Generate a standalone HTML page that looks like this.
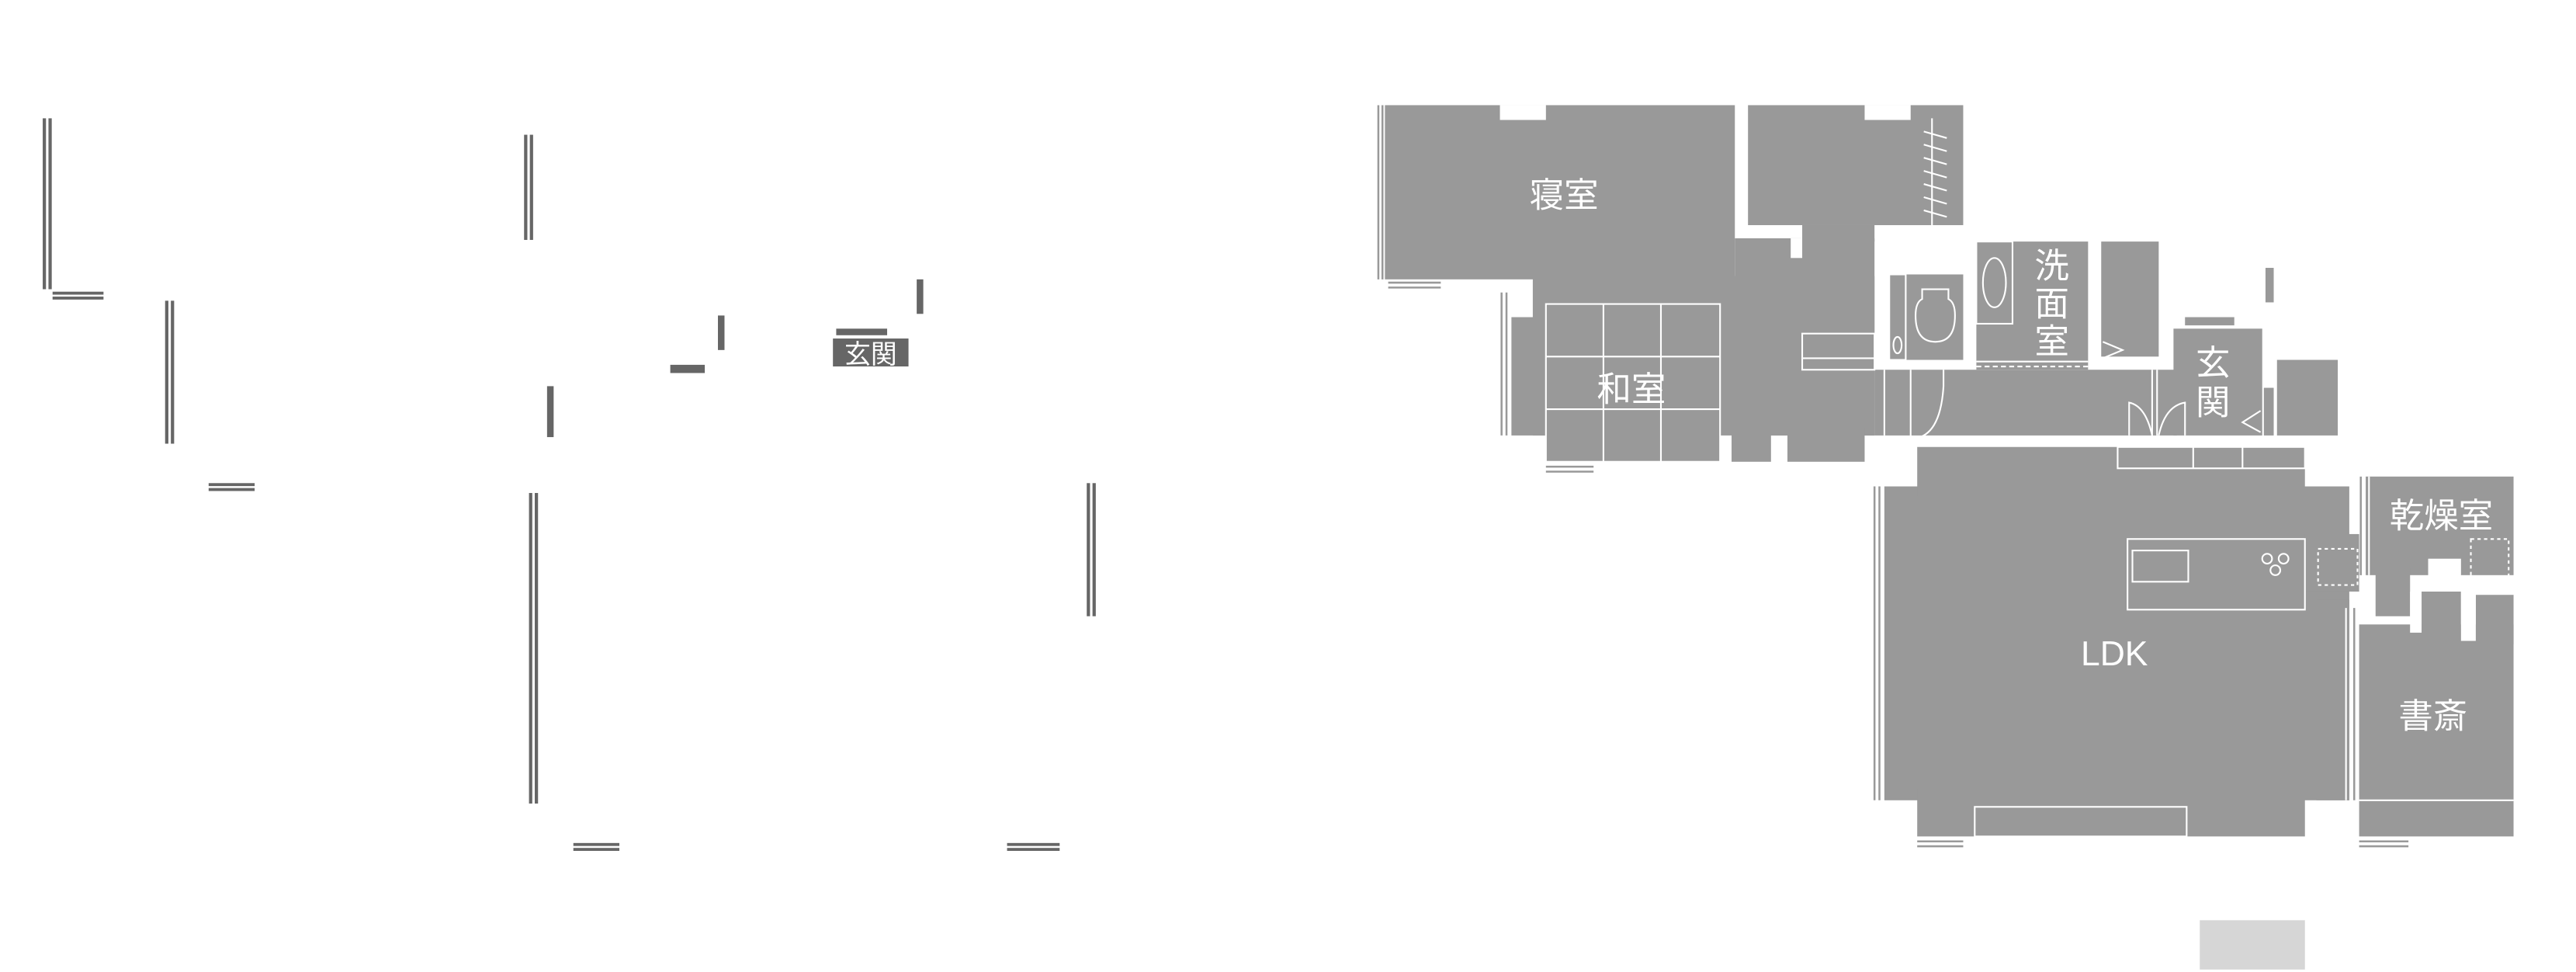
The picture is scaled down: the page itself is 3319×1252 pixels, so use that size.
<!DOCTYPE html>
<html><head><meta charset="utf-8"><style>
html,body{margin:0;padding:0;background:#fff;}
svg{display:block;}
text{font-family:"Liberation Sans","Noto Sans CJK JP",sans-serif;fill:#fff;}
</style></head><body>
<svg width="3319" height="1252" viewBox="0 0 1568 591.5" preserveAspectRatio="none" xmlns="http://www.w3.org/2000/svg">
<rect width="1568" height="591.5" fill="#fff"/>
<g fill="#666">
<rect x="26" y="72" width="2" height="104"/><rect x="29.5" y="72" width="2" height="104"/>
<rect x="32" y="177.5" width="31" height="1.8"/><rect x="32" y="180.5" width="31" height="1.8"/>
<rect x="100.5" y="183" width="2" height="87"/><rect x="104" y="183" width="2" height="87"/>
<rect x="127" y="294" width="28" height="1.8"/><rect x="127" y="297" width="28" height="1.8"/>
<rect x="319" y="82" width="2" height="64"/><rect x="322.5" y="82" width="2" height="64"/>
<rect x="558" y="170" width="4" height="21"/>
<rect x="437" y="192" width="4" height="21"/>
<rect x="408" y="222" width="21" height="5"/>
<rect x="509" y="200" width="31" height="4"/>
<rect x="507" y="206" width="46" height="17"/>
<rect x="333" y="235" width="4" height="31"/>
<rect x="322" y="300" width="2" height="189"/><rect x="325.5" y="300" width="2" height="189"/>
<rect x="661.5" y="294" width="2" height="81"/><rect x="665" y="294" width="2" height="81"/>
<rect x="349" y="513" width="28" height="1.8"/><rect x="349" y="516" width="28" height="1.8"/>
<rect x="613" y="513" width="32" height="1.8"/><rect x="613" y="516" width="32" height="1.8"/>
</g>
<text x="530" y="221" font-size="16" text-anchor="middle">玄関</text>

<g fill="#999">
<rect x="843" y="64" width="213" height="106"/>
<rect x="1064" y="64" width="131" height="73"/>
<rect x="1056" y="145" width="85" height="120"/>
<rect x="1097" y="137" width="44" height="10"/>
<rect x="933" y="168" width="208" height="97"/>
<rect x="920" y="193" width="21" height="72"/>
<rect x="941" y="185" width="106" height="96"/>
<rect x="1054" y="260" width="24" height="21"/>
<rect x="1088" y="260" width="47" height="21"/>
<rect x="1141" y="225" width="184" height="40"/>
<rect x="1150" y="167" width="45" height="52"/>
<rect x="1203" y="147" width="68" height="78"/>
<rect x="1279" y="147" width="35" height="70"/>
<rect x="1323" y="200" width="54" height="65"/>
<rect x="1386" y="219" width="37" height="46"/>
<rect x="1378" y="236" width="6" height="29"/>
<rect x="1330" y="193" width="30" height="5"/>
<rect x="1379" y="163" width="5" height="21"/>
<rect x="1147" y="296" width="283" height="191"/>
<rect x="1167" y="272" width="236" height="30"/>
<rect x="1167" y="480" width="236" height="29"/>
<rect x="1403" y="325" width="33" height="35"/>
<rect x="1410" y="365" width="20" height="122"/>
<rect x="1440" y="290" width="90" height="60"/>
<rect x="1446" y="345" width="21" height="30"/>
<rect x="1436" y="380" width="94" height="129"/>
<rect x="1474" y="360" width="24" height="30"/>
<rect x="1507" y="362" width="23" height="30"/>
<rect x="1467" y="385" width="40" height="10"/>
</g>
<rect x="1339" y="560" width="64" height="30" fill="#d6d6d6"/>
<g fill="#fff">
<rect x="913" y="64" width="28" height="9"/>
<rect x="1135" y="64" width="28" height="9"/>
<rect x="1090" y="145" width="7" height="12"/>
<rect x="1498" y="360" width="9" height="30"/>
<rect x="1467" y="360" width="7" height="25"/>
<rect x="1478" y="340" width="20" height="20"/>
</g>
<g stroke="#fff" stroke-width="1" fill="none">
<rect x="941" y="185" width="106" height="96"/>
<line x1="976" y1="185" x2="976" y2="281"/><line x1="1011" y1="185" x2="1011" y2="281"/>
<line x1="941" y1="217" x2="1047" y2="217"/><line x1="941" y1="249" x2="1047" y2="249"/>
<rect x="1097" y="203" width="44" height="22"/>
<line x1="1097" y1="218" x2="1141" y2="218"/>
<line x1="1176" y1="72" x2="1176" y2="137"/>
<path d="M1171 80 l14 4 M1171 88 l14 4 M1171 96 l14 4 M1171 104 l14 4 M1171 112 l14 4 M1171 120 l14 4 M1171 128 l14 4"/>
<rect x="1150" y="167" width="10" height="52"/>
<ellipse cx="1155" cy="210" rx="2.5" ry="5"/>
<path d="M1170 176 h16 v6 q4 2 4 10 q0 16 -12 16 q-12 0 -12 -16 q0 -8 4 -10z"/>
<path d="M1163 225 v42 q18 0 20 -32 v-10"/>
<line x1="1147" y1="225" x2="1147" y2="265"/>
<rect x="1203" y="147" width="22" height="50"/>
<ellipse cx="1214" cy="172" rx="7" ry="15"/>
<line x1="1203" y1="220" x2="1271" y2="220"/>
<line x1="1203" y1="223" x2="1271" y2="223" stroke-dasharray="3 2"/>
<line x1="1273" y1="185" x2="1273" y2="217"/>
<path d="M1280 208 l12 5 l-12 5"/>
<line x1="1310" y1="225" x2="1310" y2="265"/><line x1="1313" y1="225" x2="1313" y2="265"/>
<path d="M1296 265 v-20 q10 2 14 20 M1330 265 v-20 q-12 2 -16 20"/>
<path d="M1376 250 l-11 7 l11 6"/>
<line x1="1187" y1="267" x2="1267" y2="267" stroke-dasharray="4 2"/><line x1="1187" y1="270" x2="1267" y2="270"/>
<rect x="1289" y="272" width="114" height="13"/>
<line x1="1335" y1="272" x2="1335" y2="285"/><line x1="1365" y1="272" x2="1365" y2="285"/>
<rect x="1295" y="328" width="108" height="43"/>
<rect x="1298" y="335" width="34" height="19"/>
<circle cx="1380" cy="340" r="3"/><circle cx="1390" cy="340" r="3"/><circle cx="1385" cy="347" r="3"/>
<rect x="1411" y="334" width="24" height="22" stroke-dasharray="2 2"/>
<rect x="1504" y="328" width="23" height="24" stroke-dasharray="2 2"/>
<rect x="1202" y="491" width="129" height="18"/>
<line x1="1436" y1="487" x2="1530" y2="487"/>
<line x1="1428" y1="370" x2="1428" y2="487"/>
<line x1="1442" y1="290" x2="1442" y2="350"/>
</g>
<g stroke="#999" stroke-width="1.2">
<line x1="839" y1="64" x2="839" y2="170"/><line x1="841.5" y1="64" x2="841.5" y2="170"/>
<line x1="845" y1="172" x2="877" y2="172"/><line x1="845" y1="175" x2="877" y2="175"/>
<line x1="914" y1="178" x2="914" y2="265"/><line x1="917" y1="178" x2="917" y2="265"/>
<line x1="941" y1="284" x2="970" y2="284"/><line x1="941" y1="287" x2="970" y2="287"/>
<line x1="1141" y1="296" x2="1141" y2="487"/><line x1="1144" y1="296" x2="1144" y2="487"/>
<line x1="1167" y1="512" x2="1195" y2="512"/><line x1="1167" y1="515" x2="1195" y2="515"/>
<line x1="1436" y1="512" x2="1466" y2="512"/><line x1="1436" y1="515" x2="1466" y2="515"/>
<line x1="1433" y1="370" x2="1433" y2="487"/>
<line x1="1437" y1="290" x2="1437" y2="350"/>
</g>
<g font-size="21" text-anchor="middle">
<text x="952" y="126">寝室</text>
<text x="993" y="244">和室</text>
<text x="1249" y="169">洗</text><text x="1249" y="192">面</text><text x="1249" y="215">室</text>
<text x="1347" y="228">玄</text><text x="1347" y="252">関</text>
<text x="1287" y="405">LDK</text>
<text x="1486" y="321">乾燥室</text>
<text x="1481" y="443">書斎</text>
</g>
</svg>
</body></html>
